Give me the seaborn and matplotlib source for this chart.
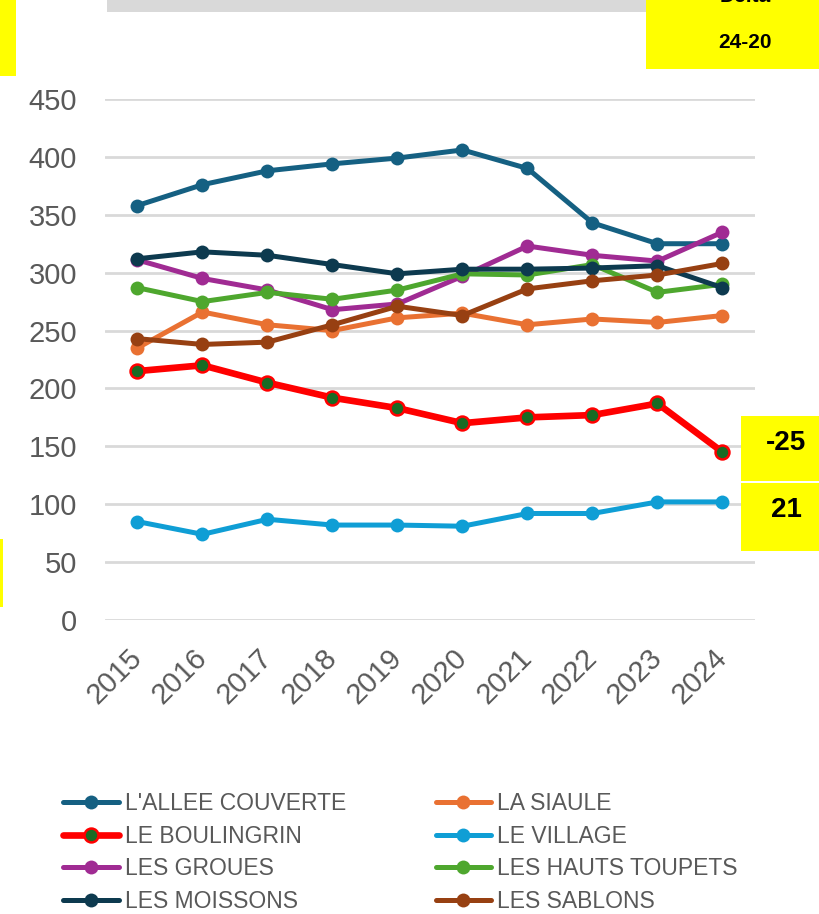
import matplotlib
matplotlib.use("Agg")
import matplotlib.pyplot as plt
import seaborn as sns
import pandas as pd
from matplotlib.lines import Line2D
from matplotlib.patches import Rectangle

years = [2015, 2016, 2017, 2018, 2019, 2020, 2021, 2022, 2023, 2024]
allee_couverte = [358, 376, 388, 394, 399, 406, 390, 343, 325, 325]
la_siaule = [235, 266, 255, 250, 261, 265, 255, 260, 257, 263]
le_boulingrin = [215, 220, 205, 192, 183, 170, 175, 177, 187, 145]
le_village = [85, 74, 87, 82, 82, 81, 92, 92, 102, 102]
les_groues = [311, 295, 285, 268, 273, 297, 323, 315, 310, 335]
les_hauts_toupets = [287, 275, 283, 277, 285, 299, 298, 307, 283, 290]
les_moissons = [312, 318, 315, 307, 299, 303, 303, 304, 306, 287]
les_sablons = [243, 238, 240, 255, 271, 263, 286, 293, 298, 308]
series_names = ["L'ALLEE COUVERTE", "LA SIAULE", "LE BOULINGRIN", "LE VILLAGE",
                "LES GROUES", "LES HAUTS TOUPETS", "LES MOISSONS", "LES SABLONS"]
series_values = [allee_couverte, la_siaule, le_boulingrin, le_village,
                 les_groues, les_hauts_toupets, les_moissons, les_sablons]
colors = ["#156082", "#E97132", "#FF0000", "#0F9ED5",
          "#A02B93", "#4EA72E", "#0D3A4F", "#974012"]
delta_labels = ["-25", "21"]
y_ticks = [0, 50, 100, 150, 200, 250, 300, 350, 400, 450]

sns.set_theme(style="white")
plt.rcParams['font.family'] = ['Liberation Sans', 'DejaVu Sans']

fig = plt.figure(figsize=(8.2, 9.14), dpi=100)
W, H = 820, 914
ax = fig.add_axes([105 / W, 1 - 620 / H, 650 / W, (620 - 99) / H])

df = pd.DataFrame({"year": years * len(series_names),
                   "value": sum(series_values, []),
                   "series": sum([[n] * len(years) for n in series_names], [])})

handles = {}
for name, col in zip(series_names, colors):
    sub = df[df["series"] == name]
    if name == "LE BOULINGRIN":
        sns.lineplot(data=sub, x="year", y="value", ax=ax, color=col, lw=4.8,
                     marker="o", markersize=10, markerfacecolor="#196B24",
                     markeredgecolor="#FF0000", markeredgewidth=1.8, zorder=3)
        handles[name] = Line2D([], [], color=col, lw=4.8, marker="o", markersize=10,
                               markerfacecolor="#196B24", markeredgecolor="#FF0000",
                               markeredgewidth=1.8)
    else:
        sns.lineplot(data=sub, x="year", y="value", ax=ax, color=col, lw=3.6,
                     marker="o", markersize=10, markeredgewidth=0, zorder=3)
        handles[name] = Line2D([], [], color=col, lw=3.6, marker="o", markersize=10,
                               markeredgewidth=0)

ax.set_xlim(years[0] - 0.5, years[-1] + 0.5)
ax.set_ylim(0, 450)
ax.set_yticks(y_ticks)
ax.set_xticks(years)
ax.set_xticklabels([str(y) for y in years], rotation=45, ha="right", va="center",
                   rotation_mode="anchor")
ax.tick_params(axis="y", labelsize=21, labelcolor="#595959", pad=20, length=0)
ax.tick_params(axis="x", labelsize=21, labelcolor="#595959", pad=24, length=0)
ax.grid(axis="y", color="#D9D9D9", lw=2)
ax.grid(axis="x", visible=False)
for s in ax.spines.values():
    s.set_visible(False)
ax.set_xlabel("")
ax.set_ylabel("")

# decorative boxes (figure pixel coords)
def box(x0, y0, x1, y1, color):
    fig.patches.append(Rectangle((x0 / W, 1 - y1 / H), (x1 - x0) / W, (y1 - y0) / H,
                                 transform=fig.transFigure, facecolor=color,
                                 edgecolor="none", zorder=0))

box(0, 0, 16, 76, "#FFFF00")
box(107, 0, 646, 12, "#D9D9D9")
box(646, 0, 820, 69, "#FFFF00")
box(0, 539, 3, 607, "#FFFF00")
box(741, 416, 820, 481, "#FFFF00")
box(741, 483, 820, 551, "#FFFF00")

fig.text(745 / W, 1 - (-4) / H, "Delta", ha="center", va="center",
         fontsize=15, fontweight="bold", color="black")
fig.text(745 / W, 1 - 43 / H, "24-20", ha="center", va="center",
         fontsize=15, fontweight="bold", color="black")
fig.text(786 / W, 1 - 443 / H, delta_labels[0], ha="center", va="center",
         fontsize=20, fontweight="bold", color="black")
fig.text(786 / W, 1 - 510 / H, delta_labels[1], ha="center", va="center",
         fontsize=20, fontweight="bold", color="black")

order = ["L'ALLEE COUVERTE", "LE BOULINGRIN", "LES GROUES", "LES MOISSONS",
         "LA SIAULE", "LE VILLAGE", "LES HAUTS TOUPETS", "LES SABLONS"]
leg = fig.legend([handles[n] for n in order], order, ncol=2, loc="upper left",
                 bbox_to_anchor=(63 / W, 1 - 792 / H), frameon=False,
                 borderpad=0, borderaxespad=0,
                 fontsize=16.5, handlelength=2.44, handletextpad=0.26,
                 columnspacing=3.9, labelspacing=0.42)
for t in leg.get_texts():
    t.set_color("#595959")

fig.savefig("out.png", dpi=100, facecolor="white")
